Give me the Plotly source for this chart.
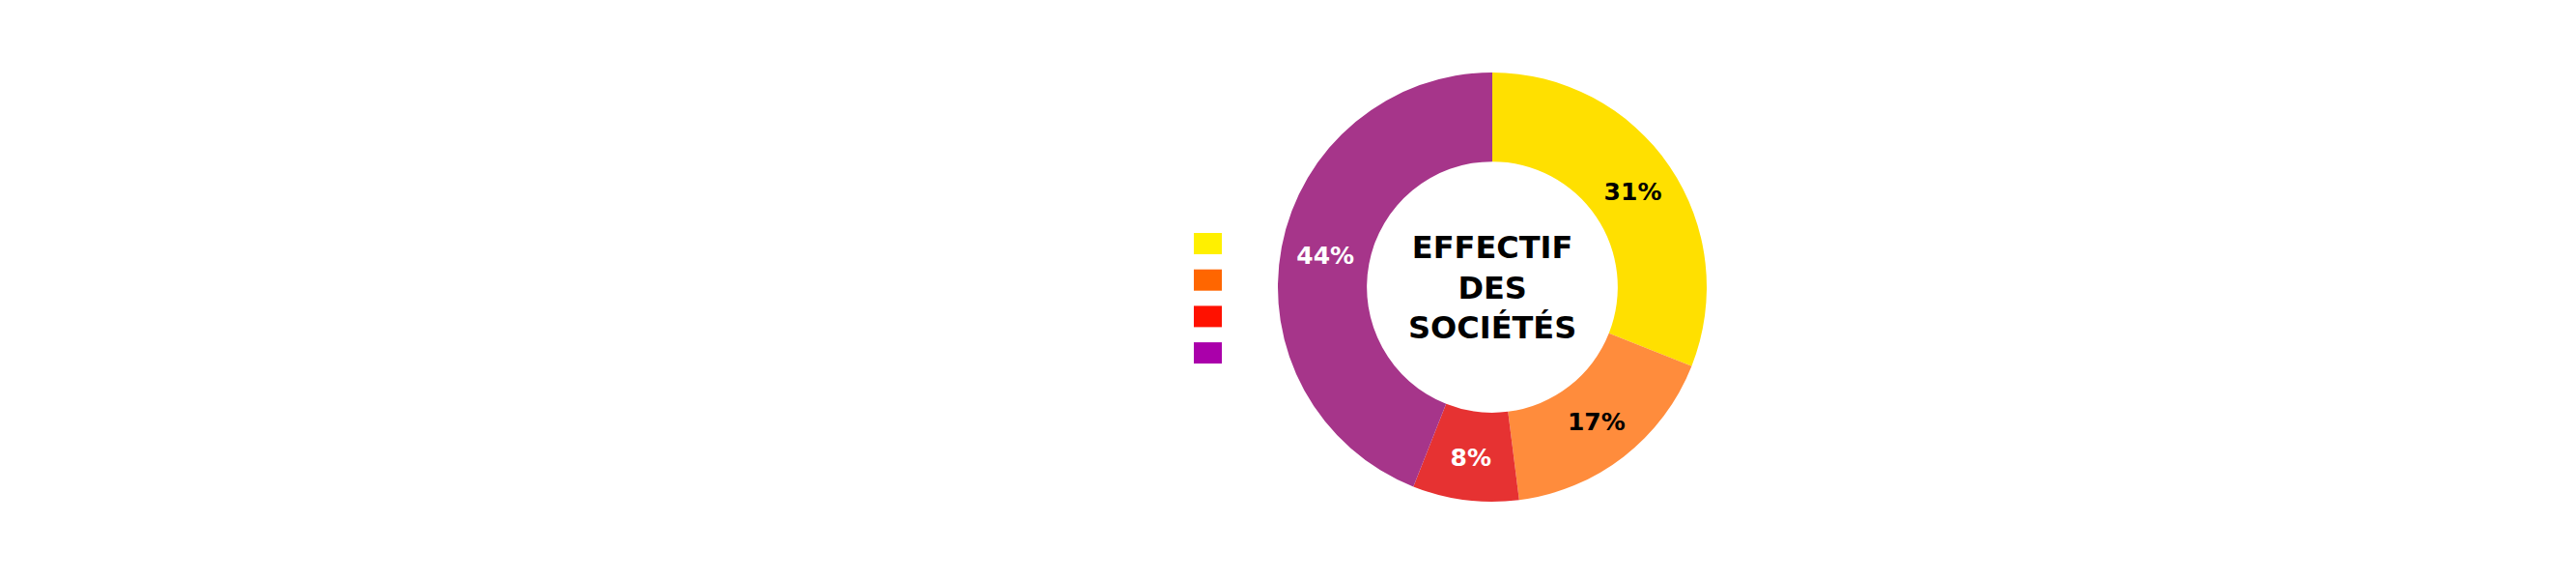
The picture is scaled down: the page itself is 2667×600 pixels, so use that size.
import plotly.graph_objects as go

# parts de l'effectif des sociétés (%), dans l'ordre horaire depuis midi
labels = ["Tranche 1", "Tranche 2", "Tranche 3", "Tranche 4"]
values = [31, 17, 8, 44]
slice_colors = ["#FFE000", "#FF8C3C", "#E63232", "#A6358A"]
text_colors = ["#000000", "#000000", "#FFFFFF", "#FFFFFF"]
legend_colors = ["#FFF000", "#FF6600", "#FF1100", "#AA00AA"]
center_title = "EFFECTIF<br>DES<br>SOCIÉTÉS"

W, H = 2667, 600
# la page ajoute ~8 px de marge au corps : on compense
cx, cy, r = 1537, 289, 222

fig = go.Figure(go.Pie(
    labels=labels,
    values=values,
    hole=0.585,
    sort=False,
    direction="clockwise",
    rotation=0,
    marker=dict(colors=slice_colors, line=dict(width=0)),
    texttemplate="%{value}%",
    textposition="inside",
    insidetextorientation="horizontal",
    textfont=dict(family="DejaVu Sans", size=25, color=text_colors, weight="bold"),
    domain=dict(x=[(cx - r) / W, (cx + r) / W], y=[(H - cy - r) / H, (H - cy + r) / H]),
    showlegend=False,
    hoverinfo="label+percent",
))

# petits carrés de légende (sans texte), à gauche du graphique
shapes = []
for i, c in enumerate(legend_colors):
    y0 = 233 + i * 37.7
    shapes.append(dict(
        type="rect", xref="paper", yref="paper",
        x0=1228 / W, x1=1257 / W,
        y0=1 - (y0 + 22) / H, y1=1 - y0 / H,
        fillcolor=c, line=dict(width=0),
    ))

fig.add_annotation(
    x=cx / W, y=1 - cy / H, xref="paper", yref="paper",
    text=center_title, showarrow=False,
    font=dict(family="DejaVu Sans", size=32, color="#000000", weight="bold"),
    align="center",
)

fig.update_layout(
    width=W, height=H,
    margin=dict(l=0, r=0, t=0, b=0),
    paper_bgcolor="white",
    plot_bgcolor="white",
    shapes=shapes,
)

fig.write_html("out.html")
